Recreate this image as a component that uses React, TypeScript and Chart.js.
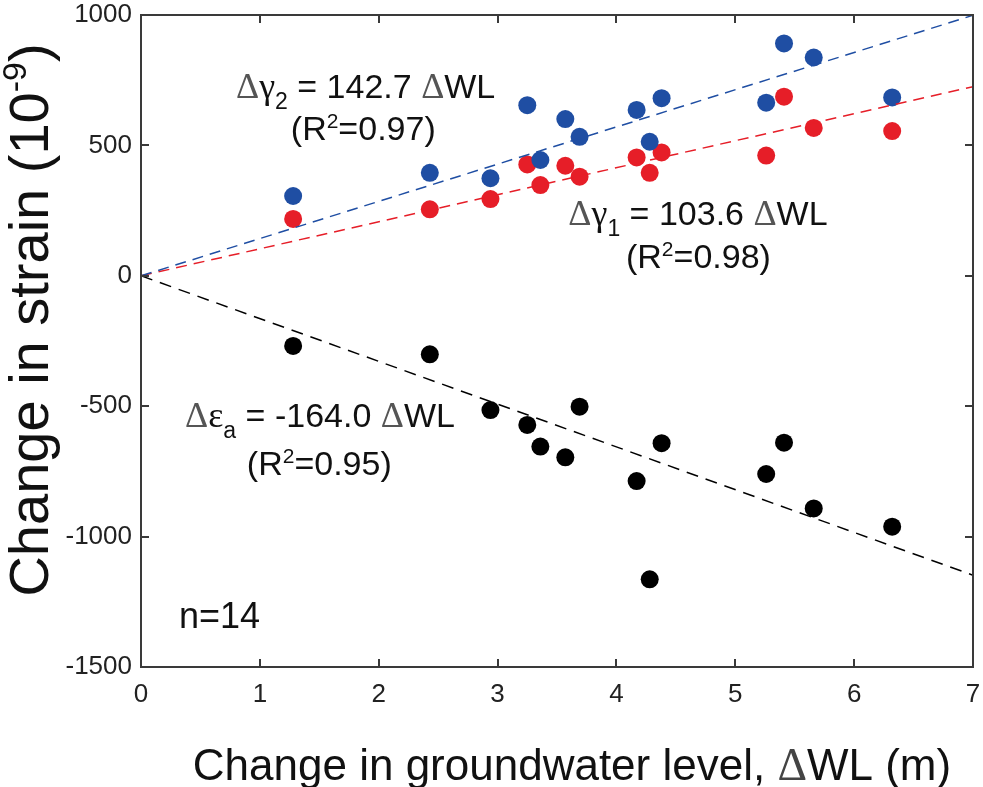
import React, { useEffect, useRef } from "react";
import { Chart, registerables } from "chart.js";

Chart.register(...registerables);

// Change in groundwater level ΔWL (m) for the 14 observation periods
const waterLevelChange = [1.28, 2.43, 2.94, 3.25, 3.36, 3.57, 3.69, 4.17, 4.28, 4.38, 5.26, 5.41, 5.66, 6.32];
// Strain changes (10^-9)
const gamma2 = [306, 395, 374, 654, 444, 601, 533, 636, 514, 681, 664, 891, 837, 684];
const gamma1 = [218, 255, 294, 427, 348, 422, 380, 454, 395, 473, 461, 687, 567, 555];
const epsilonA = [-269, -301, -515, -572, -655, -696, -502, -787, -1164, -642, -760, -640, -892, -962];

// Regression through the origin
const slopeGamma2 = 142.7;
const slopeGamma1 = 103.6;
const slopeEpsilonA = -164.0;
const r2Gamma2 = "0.97";
const r2Gamma1 = "0.98";
const r2EpsilonA = "0.95";
const sampleCount = 14;
const fitRange = [0, 7];

const xTickValues = [0, 1, 2, 3, 4, 5, 6, 7];
const yTickValues = [-1500, -1000, -500, 0, 500, 1000];

const BLUE = "#1f4ea3";
const RED = "#e61e28";
const BLACK = "#000000";
const FRAME = "#3a3a3a";

const SANS = '"Liberation Sans", Arial, Helvetica, sans-serif';
const SERIF = '"Liberation Serif", "Times New Roman", serif';

type Run = { text: string; font: string; dy?: number; color?: string };

function drawRuns(ctx: CanvasRenderingContext2D, runs: Run[], x: number, baseline: number, align: "center" | "left") {
  let total = 0;
  const widths = runs.map((r) => {
    ctx.font = r.font;
    const w = ctx.measureText(r.text).width;
    total += w;
    return w;
  });
  let cx = align === "center" ? x - total / 2 : x;
  ctx.textAlign = "left";
  ctx.textBaseline = "alphabetic";
  runs.forEach((r, i) => {
    ctx.font = r.font;
    ctx.fillStyle = r.color || "#111";
    ctx.fillText(r.text, cx, baseline + (r.dy || 0));
    cx += widths[i];
  });
}

function fitLine(slope: number) {
  return fitRange.map((x) => ({ x, y: slope * x }));
}

function points(ys: number[]) {
  return waterLevelChange.map((x, i) => ({ x, y: ys[i] }));
}

const main = (s: number) => `${s}px ${SANS}`;
const sym = (s: number) => `${s}px ${SERIF}`;

function equationRuns(greek: string, sub: string, slope: number): Run[] {
  return [
    { text: "\u0394", font: sym(36), color: "#555" },
    { text: greek, font: sym(36) },
    { text: sub, font: main(23), dy: 11 },
    { text: ` = ${slope.toFixed(1)} `, font: main(34) },
    { text: "\u0394", font: sym(36), color: "#555" },
    { text: "WL", font: main(34) },
  ];
}

function r2Runs(r2: string): Run[] {
  return [
    { text: "(R", font: main(34) },
    { text: "2", font: main(21), dy: -12 },
    { text: `=${r2})`, font: main(34) },
  ];
}

const framePlugin = {
  id: "frameAndNotes",
  afterDraw(chart: any) {
    const { ctx, chartArea: a, scales } = chart;
    const xs = scales.x;
    const ys = scales.y;
    ctx.save();
    // Box with inward ticks on all four sides
    ctx.strokeStyle = FRAME;
    ctx.lineWidth = 2;
    ctx.strokeRect(a.left, a.top, a.right - a.left, a.bottom - a.top);
    const tl = 8;
    ctx.beginPath();
    xTickValues.forEach((v) => {
      const px = Math.round(xs.getPixelForValue(v));
      ctx.moveTo(px, a.bottom);
      ctx.lineTo(px, a.bottom - tl);
      ctx.moveTo(px, a.top);
      ctx.lineTo(px, a.top + tl);
    });
    yTickValues.forEach((v) => {
      const py = Math.round(ys.getPixelForValue(v));
      ctx.moveTo(a.left, py);
      ctx.lineTo(a.left + tl, py);
      ctx.moveTo(a.right, py);
      ctx.lineTo(a.right - tl, py);
    });
    ctx.stroke();

    // Regression equations
    drawRuns(ctx, equationRuns("\u03b3", "2", slopeGamma2), xs.getPixelForValue(1.89), ys.getPixelForValue(682), "center");
    drawRuns(ctx, r2Runs(r2Gamma2), xs.getPixelForValue(1.87), ys.getPixelForValue(521), "center");
    drawRuns(ctx, equationRuns("\u03b3", "1", slopeGamma1), xs.getPixelForValue(4.686), ys.getPixelForValue(195), "center");
    drawRuns(ctx, r2Runs(r2Gamma1), xs.getPixelForValue(4.69), ys.getPixelForValue(30), "center");
    drawRuns(ctx, equationRuns("\u03b5", "a", slopeEpsilonA), xs.getPixelForValue(1.506), ys.getPixelForValue(-580), "center");
    drawRuns(ctx, r2Runs(r2EpsilonA), xs.getPixelForValue(1.5), ys.getPixelForValue(-764), "center");
    drawRuns(ctx, [{ text: `n=${sampleCount}`, font: main(36) }], xs.getPixelForValue(0.32), ys.getPixelForValue(-1351), "left");

    // Axis titles
    const xMid = (a.left + a.right) / 2 + 15;
    drawRuns(ctx, [{ text: "Change in groundwater level, ", font: main(44) }, { text: "\u0394", font: sym(46), color: "#444" }, { text: "WL (m)", font: main(44) }], xMid, 780, "center");

    ctx.translate(48, 320);
    ctx.rotate(-Math.PI / 2);
    drawRuns(ctx, [{ text: "Change in strain (10", font: main(56) }, { text: "-9", font: main(34), dy: -22 }, { text: ")", font: main(56) }], 0, 0, "center");
    ctx.restore();
  },
};

export default function App() {
  const canvasRef = useRef<HTMLCanvasElement | null>(null);

  useEffect(() => {
    document.body.style.margin = "0";
    const canvas = canvasRef.current;
    if (!canvas) return;
    const chart = new Chart(canvas, {
      type: "scatter",
      data: {
        datasets: [
          { type: "line", data: fitLine(slopeGamma2), borderColor: BLUE, borderWidth: 1.5, borderDash: [11, 7], pointRadius: 0, fill: false },
          { type: "line", data: fitLine(slopeGamma1), borderColor: RED, borderWidth: 1.5, borderDash: [11, 7], pointRadius: 0, fill: false },
          { type: "line", data: fitLine(slopeEpsilonA), borderColor: BLACK, borderWidth: 1.5, borderDash: [12, 8], pointRadius: 0, fill: false },
          { data: points(gamma2), backgroundColor: BLUE, borderWidth: 0, pointRadius: 9 },
          { data: points(gamma1), backgroundColor: RED, borderWidth: 0, pointRadius: 9 },
          { data: points(epsilonA), backgroundColor: BLACK, borderWidth: 0, pointRadius: 9 },
        ] as any,
      },
      options: {
        animation: false,
        responsive: false,
        layout: { padding: { top: 15, right: 10, left: 0, bottom: 0 } },
        plugins: { legend: { display: false }, tooltip: { enabled: false }, title: { display: false } },
        scales: {
          x: {
            type: "linear",
            min: 0,
            max: 7,
            afterFit: (s: any) => {
              s.height = 120;
              s.paddingLeft = 0;
              s.paddingRight = 0;
            },
            afterBuildTicks: (s: any) => { s.ticks = xTickValues.map((v) => ({ value: v })); },
            grid: { display: false, drawTicks: false },
            border: { display: false },
            ticks: { color: "#222", padding: 12, font: { size: 26, family: SANS }, callback: (v: any) => String(v) },
          },
          y: {
            type: "linear",
            min: -1500,
            max: 1000,
            afterFit: (s: any) => {
              s.width = 141;
              s.paddingTop = 0;
              s.paddingBottom = 0;
            },
            afterBuildTicks: (s: any) => { s.ticks = yTickValues.map((v) => ({ value: v })); },
            grid: { display: false, drawTicks: false },
            border: { display: false },
            ticks: { color: "#222", padding: 9, font: { size: 26, family: SANS }, callback: (v: any) => String(v) },
          },
        },
      },
      plugins: [framePlugin],
    });
    return () => chart.destroy();
  }, []);

  return (
    <div style={{ width: 983, height: 787, background: "#fff" }}>
      <canvas ref={canvasRef} width={983} height={787} />
    </div>
  );
}
